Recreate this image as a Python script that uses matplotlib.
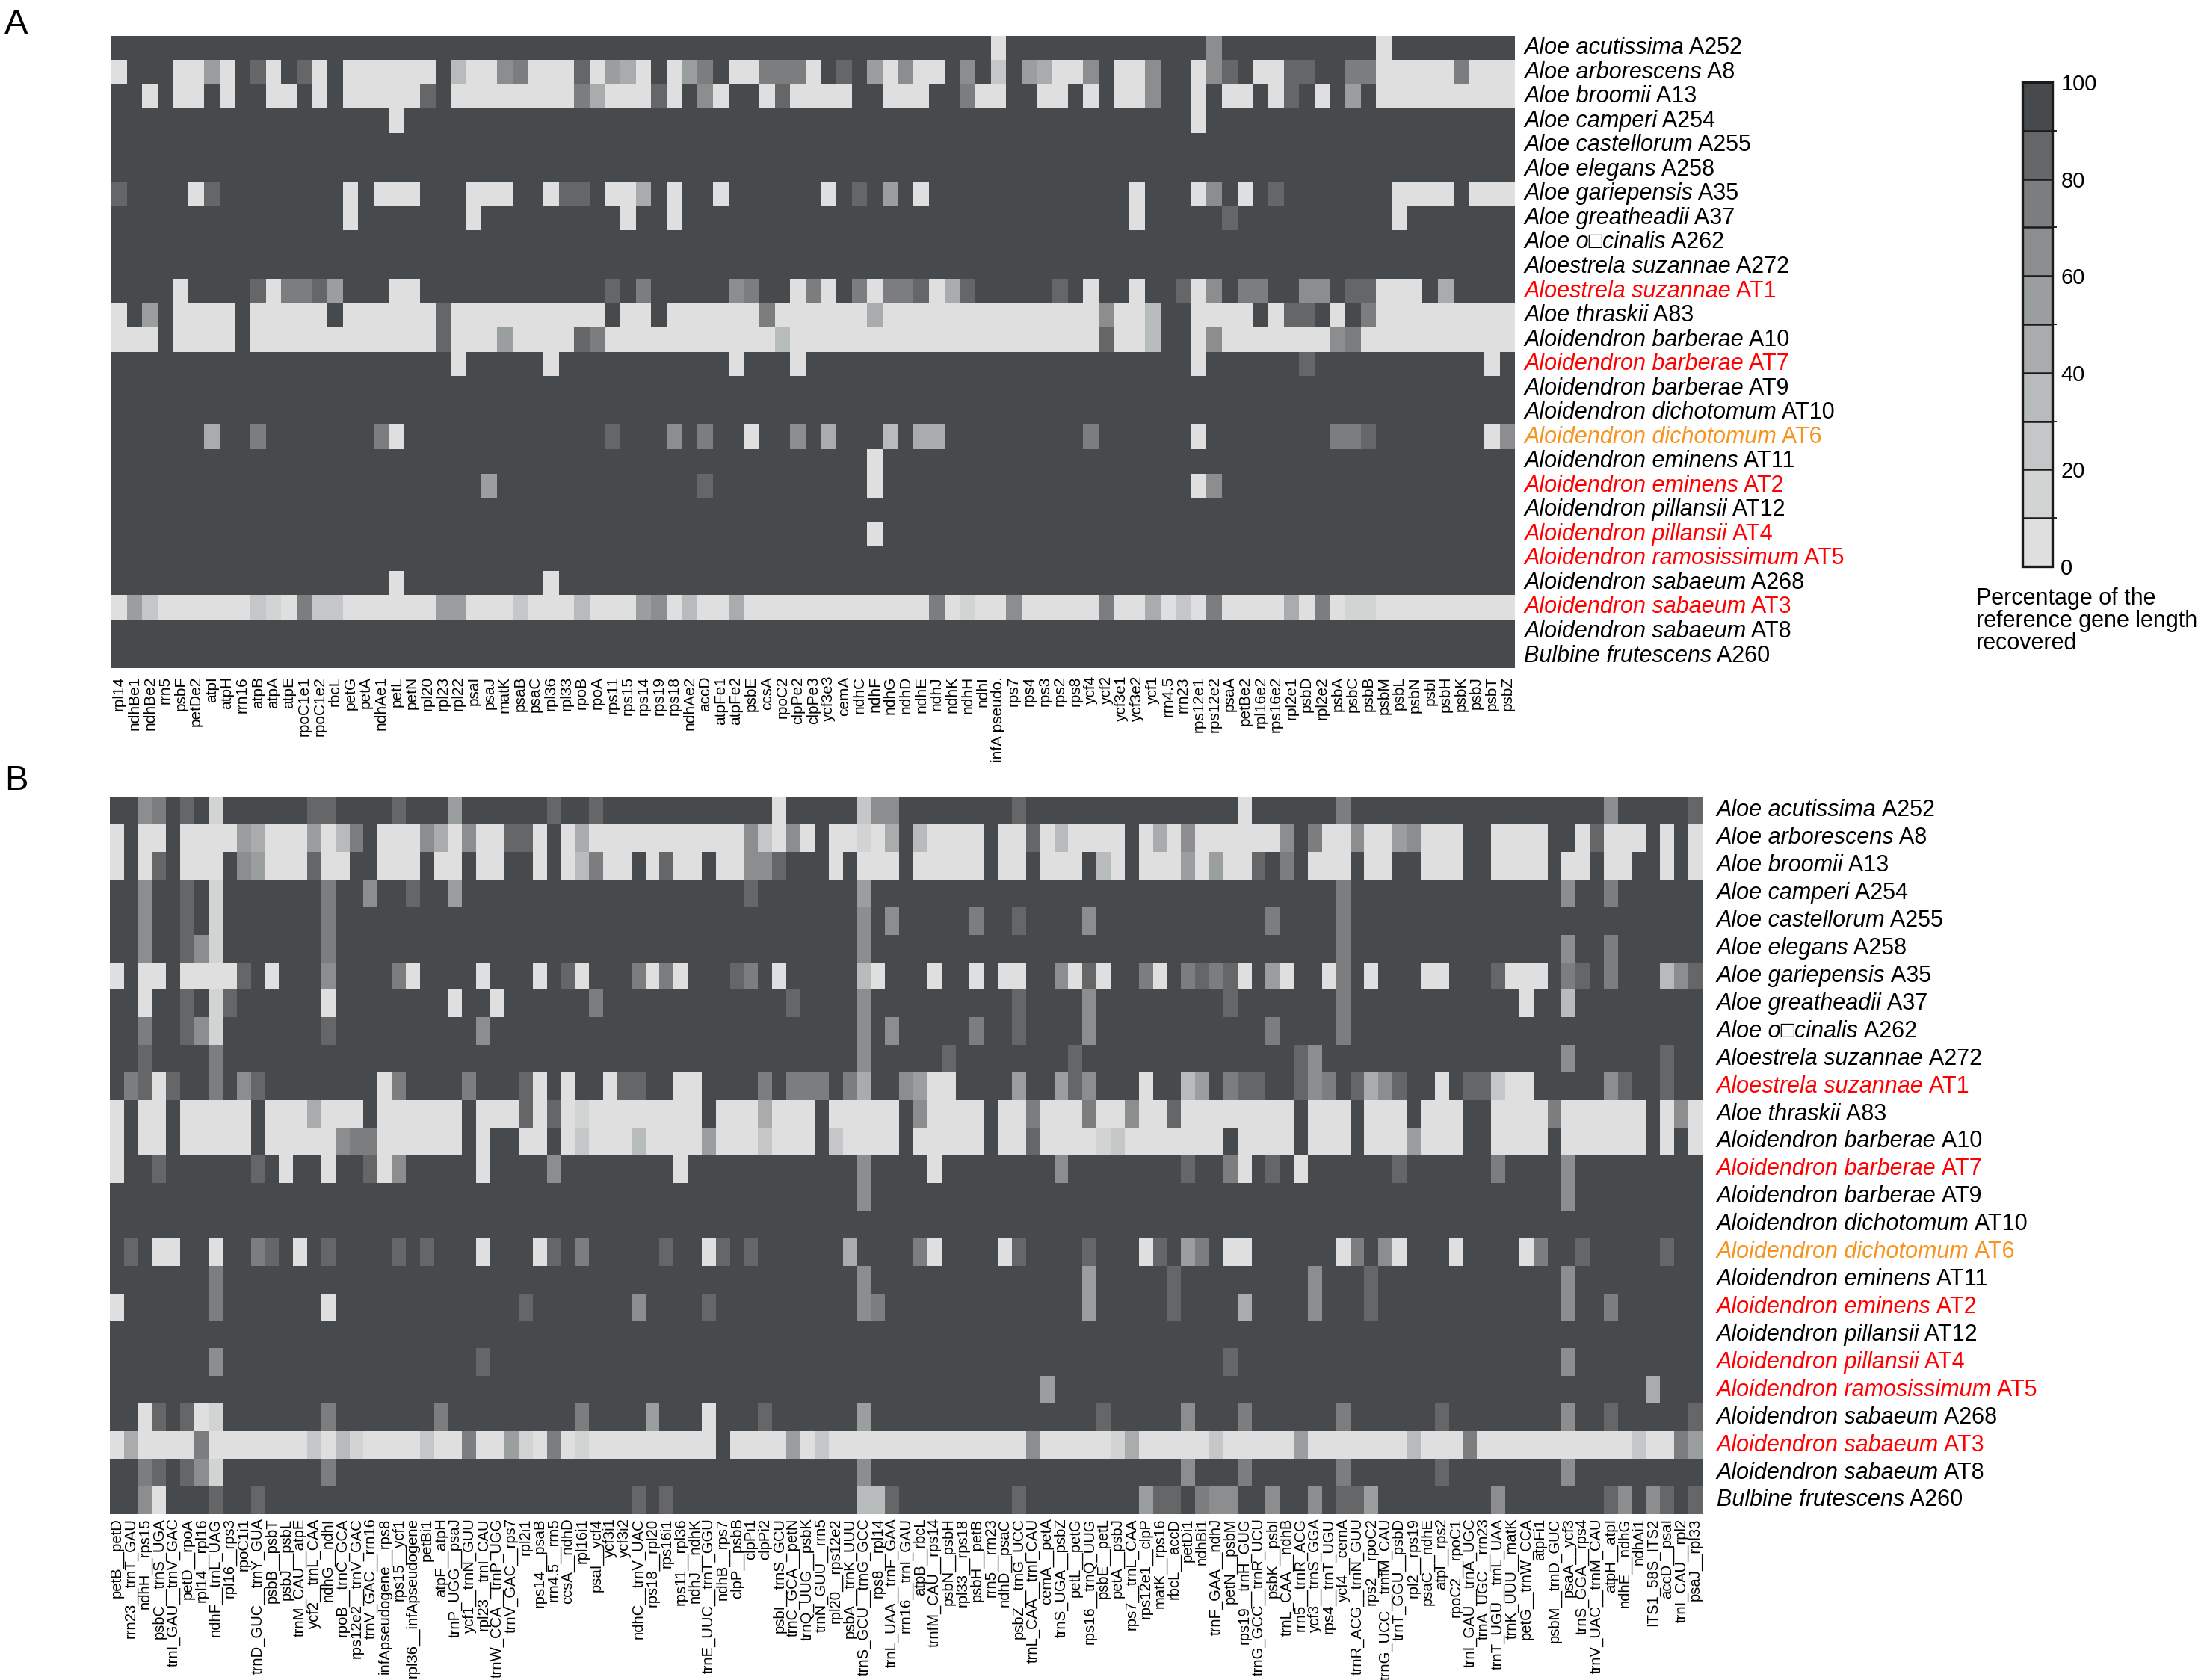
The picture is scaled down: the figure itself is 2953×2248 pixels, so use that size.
import numpy as np
import matplotlib
matplotlib.use("Agg")
import matplotlib.pyplot as plt
from matplotlib.colors import ListedColormap, BoundaryNorm
from matplotlib.cm import ScalarMappable

plt.rcParams['font.family'] = ['Liberation Sans', 'DejaVu Sans']

# rows (same order in both panels)
species = ["Aloe acutissima", "Aloe arborescens", "Aloe broomii", "Aloe camperi",
           "Aloe castellorum", "Aloe elegans", "Aloe gariepensis", "Aloe greatheadii",
           "Aloe o\u25a1cinalis", "Aloestrela suzannae", "Aloestrela suzannae", "Aloe thraskii",
           "Aloidendron barberae", "Aloidendron barberae", "Aloidendron barberae",
           "Aloidendron dichotomum", "Aloidendron dichotomum", "Aloidendron eminens",
           "Aloidendron eminens", "Aloidendron pillansii", "Aloidendron pillansii",
           "Aloidendron ramosissimum", "Aloidendron sabaeum", "Aloidendron sabaeum",
           "Aloidendron sabaeum", "Bulbine frutescens"]
codes = ["A252", "A8", "A13", "A254", "A255", "A258", "A35", "A37", "A262", "A272", "AT1",
         "A83", "A10", "AT7", "AT9", "AT10", "AT6", "AT11", "AT2", "AT12", "AT4", "AT5",
         "A268", "AT3", "AT8", "A260"]
red, orange = "#ff0000", "#f7941e"
name_colors = ["black"] * 10 + [red, "black", "black", red, "black", "black", orange,
                                "black", red, "black", red, red, "black", red, "black", "black"]

genes_A = ["rpl14", "ndhBe1", "ndhBe2", "rrn5", "psbF", "petDe2", "atpI", "atpH", "rrn16",
           "atpB", "atpA", "atpE", "rpoC1e1", "rpoC1e2", "rbcL", "petG", "petA", "ndhAe1",
           "petL", "petN", "rpl20", "rpl23", "rpl22", "psaI", "psaJ", "matK", "psaB", "psaC",
           "rpl36", "rpl33", "rpoB", "rpoA", "rps11", "rps15", "rps14", "rps19", "rps18",
           "ndhAe2", "accD", "atpFe1", "atpFe2", "psbE", "ccsA", "rpoC2", "clpPe2", "clpPe3",
           "ycf3e3", "cemA", "ndhC", "ndhF", "ndhG", "ndhD", "ndhE", "ndhJ", "ndhK", "ndhH",
           "ndhI", "infA pseudo.", "rps7", "rps4", "rps3", "rps2", "rps8", "ycf4", "ycf2",
           "ycf3e1", "ycf3e2", "ycf1", "rrn4.5", "rrn23", "rps12e1", "rps12e2", "psaA",
           "petBe2", "rpl16e2", "rps16e2", "rpl2e1", "psbD", "rpl2e2", "psbA", "psbC", "psbB",
           "psbM", "psbL", "psbN", "psbI", "psbH", "psbK", "psbJ", "psbT", "psbZ"]

genes_B = [
    "petB__petD", "rrn23__trnT_GAU", "ndhH__rps15", "psbC__trnS_UGA", "trnI_GAU__trnV_GAC",
    "petD__rpoA", "rpl14__rpl16", "ndhF__trnL_UAG", "rpl16__rps3", "rpoC1i1",
    "trnD_GUC__trnY_GUA", "psbB__psbT", "psbJ__psbL", "trnM_CAU__atpE", "ycf2__trnL_CAA",
    "ndhG__ndhI", "rpoB__trnC_GCA", "rps12e2__trnV_GAC", "trnV_GAC__rrn16", "infApseudogene__rps8",
    "rps15__ycf1", "rpl36__infApseudogene", "petBi1", "atpF__atpH", "trnP_UGG__psaJ",
    "ycf1__trnN_GUU", "rpl23__trnI_CAU", "trnW_CCA__trnP_UGG", "trnV_GAC__rps7", "rpl2i1",
    "rps14__psaB", "rrn4.5__rrn5", "ccsA__ndhD", "rpl16i1", "psaI__ycf4",
    "ycf3i1", "ycf3i2", "ndhC__trnV_UAC", "rps18__rpl20", "rps16i1",
    "rps11__rpl36", "ndhJ__ndhK", "trnE_UUC__trnT_GGU", "ndhB__rps7", "clpP__psbB",
    "clpPi1", "clpPi2", "psbI__trnS_GCU", "trnC_GCA__petN", "trnQ_UUG__psbK",
    "trnN_GUU__rrn5", "rpl20__rps12e2", "psbA__trnK_UUU", "trnS_GCU__trnG_GCC", "rps8__rpl14",
    "trnL_UAA__trnF_GAA", "rrn16__trnI_GAU", "atpB__rbcL", "trnfM_CAU__rps14", "psbN__psbH",
    "rpl33__rps18", "psbH__petB", "rrn5__rrn23", "ndhD__psaC", "psbZ__trnG_UCC",
    "trnL_CAA__trnI_CAU", "cemA__petA", "trnS_UGA__psbZ", "petL__petG", "rps16__trnQ_UUG",
    "psbE__petL", "petA__psbJ", "rps7__trnL_CAA", "rps12e1__clpP", "matK__rps16",
    "rbcL__accD", "petDi1", "ndhBi1", "trnF_GAA__ndhJ", "petN__psbM",
    "rps19__trnH_GUG", "trnG_GCC__trnR_UCU", "psbK__psbI", "trnL_CAA__ndhB", "rrn5__trnR_ACG",
    "ycf3__trnS_GGA", "rps4__trnT_UGU", "ycf4__cemA", "trnR_ACG__trnN_GUU", "rps2__rpoC2",
    "trnG_UCC__trnfM_CAU", "trnT_GGU__psbD", "rpl2__rps19", "psaC__ndhE", "atpI__rps2",
    "rpoC2__rpoC1", "trnI_GAU__trnA_UGC", "trnA_UGC__rrn23", "trnT_UGU__trnL_UAA", "trnK_UUU__matK",
    "petG__trnW_CCA", "atpFi1", "psbM__trnD_GUC", "psaA__ycf3", "trnS_GGA__rps4",
    "trnV_UAC__trnM_CAU", "atpH__atpI", "ndhE__ndhG", "ndhAi1", "ITS1_58S_ITS2",
    "accD__psaI", "trnI_CAU__rpl2", "psaJ__rpl33"]

# recovered length, one digit per gene = its 10 % bin (9 -> 90-100 %, 0 -> 0-10 %)
cover_A = [
    "9999999999 9999999999 9999999999 9999999999 9999999999 9999999099 9999999999 9699999999 9909999999 9",
    "0999005098 0980900000 0930067000 8054090579 0077709895 0600969295 4006900699 0689008899 7700000700 0",
    "9909009099 0090900000 8900000000 7400080960 9908000099 0009970099 0090900699 0900908909 5900000000 0",
    "9999999999 9999999909 9999999999 9999999999 9999999999 9999999999 9999999999 0999999999 9999999999 9",
    "9999999999 9999999999 9999999999 9999999999 9999999999 9999999999 9999999999 9999999999 9999999999 9",
    "9999999999 9999999999 9999999999 9999999999 9999999999 9999999999 9999999999 9999999999 9999999999 9",
    "8999908999 9999909000 9990009908 8900490990 9999990989 5909999999 9999990999 0690989999 9990000900 0",
    "9999999999 9999909999 9990999999 9990990999 9999999999 9999999999 9999990999 9989999999 9990999999 9",
    "9999999999 9999999999 9999999999 9999999999 9999999999 9999999999 9999999999 9999999999 9999999999 9",
    "9999999999 9999999999 9999999999 9999999999 9999999999 9999999999 9999999999 9999999999 9999999999 9",
    "9999099998 0778599900 9999999999 9989799999 6799070970 7780489999 9890990998 0697799669 8800094999 9",
    "0959000090 0000900000 0800000000 0090090000 0070000004 0000000000 0000600399 0000908890 9700000000 0",
    "0009000090 0000000000 0800050000 8700000000 0003000000 0000000000 0000800399 0600000006 7000000000 0",
    "9999999999 9999999999 9909999909 9999999999 0999099999 9999999999 9999999999 0999999899 9999999990 9",
    "9999999999 9999999999 9999999999 9999999999 9999999999 9999999999 9999999999 9999999999 9999999999 9",
    "9999999999 9999999999 9999999999 9999999999 9999999999 9999999999 9999999999 9999999999 9999999999 9",
    "9999994997 9999999709 9999999999 9989996979 9099694999 3944999999 9997999999 0999999997 7899999990 6",
    "9999999999 9999999999 9999999999 9999999999 9999999990 9999999999 9999999999 9999999999 9999999999 9",
    "9999999999 9999999999 9999599999 9999999989 9999999990 9999999999 9999999999 0699999999 9999999999 9",
    "9999999999 9999999999 9999999999 9999999999 9999999999 9999999999 9999999999 9999999999 9999999999 9",
    "9999999999 9999999999 9999999999 9999999999 9999999990 9999999999 9999999999 9999999999 9999999999 9",
    "9999999999 9999999999 9999999999 9999999999 9999999999 9999999999 9999999999 9999999999 9999999999 9",
    "9999999999 9999999909 9999999909 9999999999 9999999999 9999999999 9999999999 9999999999 9999999999 9",
    "0520000002 1072200000 0550002000 3000560300 4000000000 0007010060 0000700402 0700004070 1100000000 0",
    "9999999999 9999999999 9999999999 9999999999 9999999999 9999999999 9999999999 9999999999 9999999999 9",
    "9999999999 9999999999 9999999999 9999999999 9999999999 9999999999 9999999999 9999999999 9999999999 9",
]

cover_B = [
    "9967989199 9999889999 8999599999 9899899999 9999999099 9992669999 9999899999 9999999999 0999999799 9999999999 9999996999 998",
    "0900900005 4000503790 0064060088 0904000000 0000062060 9001049300 0090080300 0090406000 0006970060 0560009900 0099080009 090",
    "0908900096 5000800990 0090090099 0903700908 0090066899 9090009000 0090090009 3090005050 0897900090 0990009900 0090090099 090",
    "9969989199 9999979969 9899599999 9999999999 9999989999 9995999999 9999999999 9999999999 9999999799 9999999999 9996997999 999",
    "9969989199 9999979999 9999999999 9999999999 9999999999 9996969999 9799899996 9999999999 9979999799 9999999999 9999999999 999",
    "9969986199 9999979999 9999999999 9999999999 9999999999 9996999999 9999999999 9999999999 9999999799 9999999999 9996997999 999",
    "0900900008 9099969999 7099990999 0980999707 0999879099 9993099909 9090099608 0997097878 0950990790 9990099980 0097897999 368",
    "9909989189 9999909999 9999099099 9999799999 9999999989 9996999999 9999899996 9999999998 9999999799 9999999999 0993999999 999",
    "9979986199 9999989999 9999996999 9999999999 9999999999 9996969999 9799899996 9999999999 9979999799 9999999999 9999999999 999",
    "9989999799 9999999999 9999999999 9999999999 9999999999 9996999998 9999999989 9999999999 9999869999 9999999999 9996999999 899",
    "9780899796 8999999990 7999979998 0909908899 0099997977 7974996500 9999599586 9990993597 8899867984 6899098820 0999996899 899",
    "0900900000 9000400090 0000090008 0801000000 0090004000 9000009600 0090070007 0060080000 0000900090 0090009900 0070000009 060",
    "0900900000 9000006770 0000090990 0902000300 0050002000 9200009000 0090080000 1200000009 0000900090 0050009900 0090000009 090",
    "0998999999 8909909980 6999990999 9699999999 0999999999 9996999909 9999999699 9999998997 0989099999 9899999979 9996999999 999",
    "9999999999 9999999999 9999999999 9999999999 9999999999 9996999999 9999999999 9999999999 9999999999 9999999999 9996999999 999",
    "9999999999 9999999999 9999999999 9999999999 9999999999 9999999999 9999999999 9999999999 9999999999 9999999999 9999999999 999",
    "9890099099 7890989999 8989990999 0897999998 9908989999 9949999709 9990899998 9990895790 0999999079 6099909999 0799899999 899",
    "9999999799 9999999999 9999999999 9999999999 9999999999 9996999999 9999999995 9999989999 9999969998 9999999999 9996999999 999",
    "0999999799 9999909999 9999999998 9999999699 9989999999 9996799999 9999999995 9999989999 4999969998 9999999999 9996997999 999",
    "9999999999 9999999999 9999999999 9999999999 9999999999 9999999999 9999999999 9999999999 9999999999 9999999999 9999999999 999",
    "9999999699 9999999999 9999998999 9999999999 9999999999 9999999999 9999999999 9999999998 9999999999 9999999999 9996999999 999",
    "9999999999 9999999999 9999999999 9999999999 9999999999 9999999999 9999995999 9999999999 9999999999 9999999999 9999999994 999",
    "9908980199 9999979999 9997999999 9997999959 9909998999 9995999999 9999999999 8999996999 7999999799 9999899999 9996998999 998",
    "0400007000 0000203100 0020070051 0701000000 0009000050 2000000000 0000060000 0140000020 0000500000 0030007000 0000000020 075",
    "9978986199 9999979999 9999999999 9999999999 9999999999 9996999999 9999999999 9999996999 7999999799 9999899999 9996999999 999",
    "9960999899 8999999999 9999999999 9999999898 9999999999 9993389999 9999899999 9995889766 9969969885 9999999969 9999998696 898",
]

bin_edges = [0, 10, 20, 30, 40, 50, 60, 70, 80, 90, 100]
bin_colors = ["#dfdfdf", "#d2d4d4", "#c4c6c7", "#b7bbbc", "#a9abac",
              "#9a9e9f", "#8b8d8f", "#7b7d7f", "#646668", "#474a4c"]
cmap = ListedColormap(bin_colors)
norm = BoundaryNorm(bin_edges, cmap.N)


def to_percent(rows):
    # bin digit -> middle of the bin in percent
    return np.array([[int(c) * 10 + 5 for c in r.replace(" ", "")] for r in rows])


def heatmap(ax, rows, genes, name_pad, gene_pad, gene_fs):
    data = to_percent(rows)
    assert data.shape == (len(species), len(genes))
    ax.pcolormesh(data, cmap=cmap, norm=norm)
    ax.set_xlim(0, data.shape[1])
    ax.set_ylim(data.shape[0], 0)
    ax.set_xticks(np.arange(len(genes)) + 0.5)
    ax.set_xticklabels(genes, rotation=90, fontsize=gene_fs)
    ax.set_yticks([])
    ax.tick_params(axis='x', length=0, pad=gene_pad)
    for s in ax.spines.values():
        s.set_visible(False)
    # species name in italics, voucher code upright
    for i, (sp, code, col) in enumerate(zip(species, codes, name_colors)):
        t = ax.annotate(sp, xy=(1, i + 0.5), xycoords=('axes fraction', 'data'),
                        xytext=(name_pad, 0), textcoords='offset points',
                        ha='left', va='center', fontsize=11, style='italic', color=col)
        ax.annotate(' ' + code, xy=(1, 0.5), xycoords=t, ha='left', va='center',
                    fontsize=11, color=col)


fig = plt.figure(figsize=(14.765, 11.24))

axA = fig.add_axes([0.0505, 0.6024, 0.636, 0.3763])
heatmap(axA, cover_A, genes_A, name_pad=4.3, gene_pad=4, gene_fs=7.5)

axB = fig.add_axes([0.0498, 0.0988, 0.7216, 0.427])
heatmap(axB, cover_B, genes_B, name_pad=6.8, gene_pad=2, gene_fs=7.3)

# colour key
cax = fig.add_axes([0.9164, 0.6628, 0.01355, 0.2883])
cb = fig.colorbar(ScalarMappable(norm=norm, cmap=cmap), cax=cax,
                  ticks=[0, 20, 40, 60, 80, 100], drawedges=True)
cb.outline.set_linewidth(1.2)
cb.outline.set_edgecolor("#1a1a1a")
cb.dividers.set_linewidth(0.9)
cb.dividers.set_color("#1a1a1a")
cax.tick_params(length=0, labelsize=10.5, pad=4)
fig.text(0.8953, 0.6505, "Percentage of the\nreference gene length\nrecovered",
         fontsize=11, ha='left', va='top', linespacing=1.0)

fig.text(0.002, 0.995, "A", fontsize=17, ha='left', va='top')
fig.text(0.002, 0.545, "B", fontsize=17, ha='left', va='top')

fig.savefig("out.png", dpi=200)
